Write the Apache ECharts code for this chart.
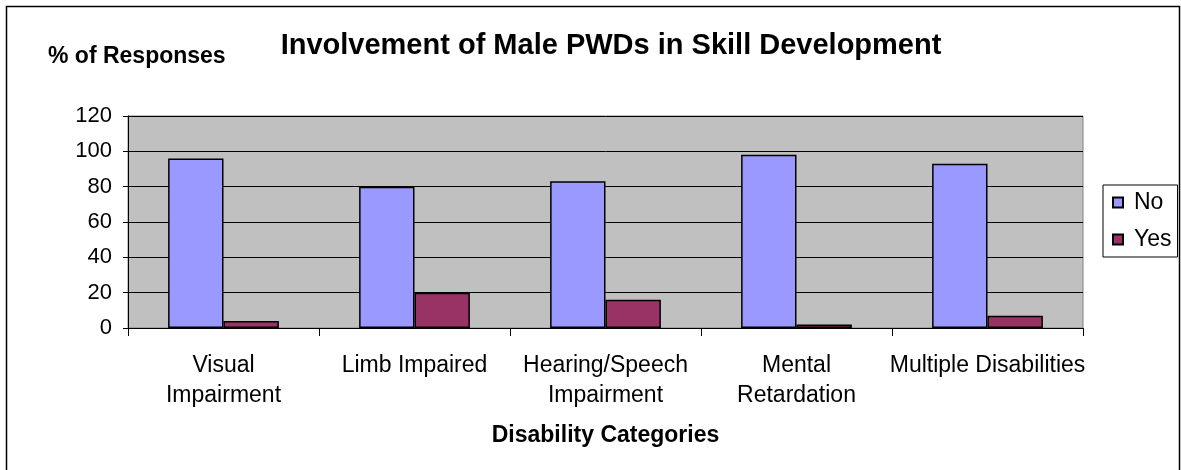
<!DOCTYPE html>
<html>
<head>
<meta charset="utf-8">
<script src="https://cdn.jsdelivr.net/npm/echarts@6/dist/echarts.min.js"></script>
<style>
  html, body { margin: 0; padding: 0; background: #fff; }
  #chart { width: 1181px; height: 470px; }
</style>
</head>
<body>
<div id="chart"></div>
<script>
// values
const categories = ["Visual\nImpairment", "Limb Impaired", "Hearing/Speech\nImpairment", "Mental\nRetardation", "Multiple Disabilities"];
const noValues = [96, 80, 83, 98, 93];
const yesValues = [4, 20, 16, 2, 7];

const font = "Liberation Sans, Arial, sans-serif";

let chart = echarts.init(document.getElementById("chart"));
let option = {
  backgroundColor: "#fff",
  textStyle: { fontFamily: font },
  graphic: [
    {
      type: "rect",
      shape: { x: 6.5, y: 6.5, width: 1173, height: 470 },
      style: { fill: "none", stroke: "#000", lineWidth: 1.5 },
      silent: true
    },
    {
      type: "text",
      left: 48,
      top: 45,
      style: { text: "% of Responses", font: "bold 23px " + font, fill: "#000" }
    }
  ],
  title: {
    text: "Involvement of Male PWDs in Skill Development",
    left: 606,
    textAlign: "center",
    top: 26,
    textStyle: { fontSize: 29, fontWeight: "bold", color: "#000", fontFamily: font }
  },
  grid: {
    left: 128,
    right: 98,
    top: 116,
    bottom: 142,
    show: true,
    backgroundColor: "#C0C0C0",
    borderColor: "#808080",
    borderWidth: 1
  },
  legend: {
    orient: "vertical",
    left: 1103,
    top: 185,
    padding: [6, 6, 6, 9],
    itemGap: 14,
    itemWidth: 10,
    itemHeight: 10,
    borderColor: "#000",
    borderWidth: 1,
    icon: "rect",
    textStyle: { fontSize: 23, color: "#000", fontFamily: font, padding: [0, 0, 0, 6] },
    data: ["No", "Yes"]
  },
  xAxis: {
    type: "category",
    data: categories,
    name: "Disability Categories",
    nameLocation: "middle",
    nameGap: 96,
    nameTextStyle: { fontSize: 23, fontWeight: "bold", color: "#000", fontFamily: font },
    axisLine: { lineStyle: { color: "#000", width: 1 } },
    axisTick: { show: true, length: 8, alignWithLabel: false, lineStyle: { color: "#000" } },
    axisLabel: { interval: 0, fontSize: 23, color: "#000", margin: 23, lineHeight: 30, fontFamily: font }
  },
  yAxis: {
    type: "value",
    min: 0,
    max: 120,
    interval: 20,
    axisLine: { show: true, lineStyle: { color: "#000", width: 1 } },
    axisTick: { show: true, length: 5, lineStyle: { color: "#000" } },
    axisLabel: { fontSize: 22, color: "#000", margin: 16, fontFamily: font },
    splitLine: { show: true, lineStyle: { color: "#000", width: 1 } }
  },
  series: [
    {
      name: "No",
      type: "bar",
      data: noValues,
      barGap: "0%",
      barCategoryGap: "42%",
      itemStyle: { color: "#9999FF", borderColor: "#000", borderWidth: 1.5 }
    },
    {
      name: "Yes",
      type: "bar",
      data: yesValues,
      barGap: "0%",
      barCategoryGap: "42%",
      itemStyle: { color: "#993366", borderColor: "#000", borderWidth: 1.5 }
    }
  ]
};
chart.setOption(option);
</script>
</body>
</html>
